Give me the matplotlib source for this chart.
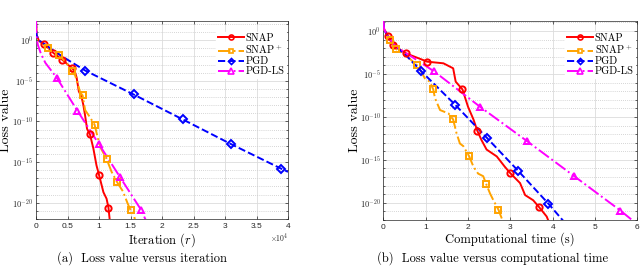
import numpy as np
import matplotlib
matplotlib.use("Agg")
import matplotlib.pyplot as plt
from matplotlib.lines import Line2D
from matplotlib.ticker import FixedLocator, FixedFormatter, NullFormatter

plt.rcParams.update({
    "font.family": "serif",
    "font.serif": ["cmr10"],
    "mathtext.fontset": "cm",
    "axes.unicode_minus": False,
})

# ---- data: log10(loss) ----
# (a) loss vs iteration, x in units of 1e4 iterations
snap_it_x = [0, 0.01, 0.05, 0.13, 0.275, 0.42, 0.57, 0.61, 0.645, 0.68, 0.72, 0.75, 0.78, 0.81,
             0.857, 0.91, 0.96, 1.0, 1.07, 1.12, 1.15, 1.17]
snap_it_y = [2.4, 0.6, -0.1, -0.45, -1.56, -2.42, -3.44, -3.7, -4.6, -6.3, -6.9, -7.9, -9.3, -10.9,
             -11.6, -13.3, -15.4, -16.56, -18.7, -19.5, -20.6, -22.1]
snap_it_mx = [0.13, 0.275, 0.42, 0.57, 0.857, 1.0, 1.15]
snap_it_my = [-0.45, -1.56, -2.42, -3.44, -11.6, -16.56, -20.6]

snapp_it_x = [0, 0.01, 0.05, 0.185, 0.37, 0.5, 0.566, 0.62, 0.66, 0.70, 0.74, 0.78, 0.85, 0.93,
              0.98, 1.03, 1.12, 1.2, 1.29, 1.38, 1.45, 1.5, 1.55, 1.57]
snapp_it_y = [2.4, 0.6, -0.1, -0.94, -1.8, -3.0, -3.85, -4.3, -5.3, -6.4, -6.8, -8.6, -9.4, -10.4,
              -12.0, -13.3, -14.6, -16.2, -17.5, -18.6, -20.0, -20.9, -21.3, -22.1]
snapp_it_mx = [0.185, 0.37, 0.566, 0.74, 0.93, 1.12, 1.29, 1.5]
snapp_it_my = [-0.94, -1.8, -3.85, -6.8, -10.4, -14.6, -17.5, -20.9]

pgd_it_x = [0, 0.01, 0.05, 0.13, 0.3, 0.5, 0.78, 1.55, 2.33, 3.1, 3.89, 4.0]
pgd_it_y = [2.4, 0.6, -0.05, -0.45, -1.4, -2.4, -3.73, -6.68, -9.75, -12.8, -15.8, -16.2]
pgd_it_mx = [0.78, 1.55, 2.33, 3.1, 3.89]
pgd_it_my = [-3.73, -6.68, -9.75, -12.8, -15.8]

pgdls_it_x = [0, 0.005, 0.03, 0.08, 0.15, 0.33, 0.655, 1.0, 1.33, 1.67, 1.74]
pgdls_it_y = [2.4, 0.6, -0.6, -1.7, -2.8, -4.63, -8.65, -12.8, -16.8, -20.9, -22.1]
pgdls_it_mx = [0.33, 0.655, 1.0, 1.33, 1.67]
pgdls_it_my = [-4.63, -8.65, -12.8, -16.8, -20.9]

# (b) loss vs computational time (s)
snap_t_x = [0, 0.02, 0.12, 0.22, 0.535, 1.04, 1.42, 1.65, 1.71, 1.87, 2.0, 2.13, 2.22, 2.32, 2.44,
            2.68, 2.87, 3.0, 3.23, 3.35, 3.54, 3.68, 3.86, 3.9]
snap_t_y = [1.2, 0.2, -0.58, -1.63, -2.6, -3.57, -3.76, -4.34, -5.9, -6.8, -8.8, -10.3, -11.6, -12.7,
            -13.8, -14.6, -15.8, -16.55, -17.7, -19.1, -19.7, -20.5, -21.6, -22.1]
snap_t_mx = [0.12, 0.22, 0.535, 1.04, 1.87, 2.22, 3.0, 3.68]
snap_t_my = [-0.58, -1.63, -2.6, -3.57, -6.8, -11.6, -16.55, -20.5]

snapp_t_x = [0, 0.02, 0.16, 0.3, 0.55, 0.79, 0.87, 0.98, 1.1, 1.18, 1.22, 1.34, 1.54, 1.65, 1.73,
             1.81, 1.89, 2.03, 2.13, 2.24, 2.36, 2.43, 2.52, 2.6, 2.72, 2.82]
snapp_t_y = [1.2, 0.2, -1.05, -2.1, -2.9, -3.95, -4.5, -5.5, -5.9, -6.8, -7.8, -9.2, -9.6, -10.3,
             -11.9, -13.1, -13.4, -14.6, -15.8, -16.6, -16.9, -17.8, -18.9, -19.7, -20.8, -22.1]
snapp_t_mx = [0.16, 0.3, 0.79, 1.18, 1.65, 2.03, 2.43, 2.72]
snapp_t_my = [-1.05, -2.1, -3.95, -6.8, -10.3, -14.6, -17.8, -20.8]

pgd_t_x = [0, 0.02, 0.1, 0.3, 0.55, 0.9, 1.7, 2.44, 3.19, 3.9, 4.25]
pgd_t_y = [1.2, 0.2, -0.6, -1.8, -2.9, -4.7, -8.6, -12.4, -16.3, -20.1, -22.1]
pgd_t_mx = [0.9, 1.7, 2.44, 3.19, 3.9]
pgd_t_my = [-4.7, -8.6, -12.4, -16.3, -20.1]

pgdls_t_x = [0, 0.02, 0.1, 0.3, 0.55, 1.2, 2.28, 3.39, 4.51, 5.6, 5.9]
pgdls_t_y = [1.2, 0.2, -0.6, -1.8, -2.6, -4.7, -8.8, -12.8, -16.9, -20.9, -22.1]
pgdls_t_mx = [1.2, 2.28, 3.39, 4.51, 5.6]
pgdls_t_my = [-4.7, -8.8, -12.8, -16.9, -20.9]

labels = ["SNAP", "SNAP$^+$", "PGD", "PGD-LS"]
ytick_exp = [0, -5, -10, -15, -20]
ytick_labels = [r"$\mathsf{10^{%d}}$" % e for e in ytick_exp]
xticks_it = [0, 0.5, 1, 1.5, 2, 2.5, 3, 3.5, 4]
xticks_t = [0, 1, 2, 3, 4, 5, 6]

styles = [
    dict(color="#ff0000", ls="-", marker="o"),
    dict(color="#ffa300", ls="-.", marker="s"),
    dict(color="#0000ff", ls="--", marker="D"),
    dict(color="#ff00ff", ls="-.", marker="^"),
]
msizes = [4.5, 4.2, 3.8, 4.8]

fig = plt.figure(figsize=(6.4, 2.71), dpi=100)
ax1 = fig.add_axes([0.05625, 0.1919, 0.39375, 0.7317])
ax2 = fig.add_axes([0.5989, 0.1882, 0.3969, 0.7354])

series_it = [(snap_it_x, snap_it_y, snap_it_mx, snap_it_my),
             (snapp_it_x, snapp_it_y, snapp_it_mx, snapp_it_my),
             (pgd_it_x, pgd_it_y, pgd_it_mx, pgd_it_my),
             (pgdls_it_x, pgdls_it_y, pgdls_it_mx, pgdls_it_my)]
series_t = [(snap_t_x, snap_t_y, snap_t_mx, snap_t_my),
            (snapp_t_x, snapp_t_y, snapp_t_mx, snapp_t_my),
            (pgd_t_x, pgd_t_y, pgd_t_mx, pgd_t_my),
            (pgdls_t_x, pgdls_t_y, pgdls_t_mx, pgdls_t_my)]


def draw(ax, series, xlim, ylim_exp, xticks, xlabel, ylabel_x):
    for (x, y, mx, my), st, ms in zip(series, styles, msizes):
        ax.plot(x, 10.0 ** np.array(y), color=st["color"], ls=st["ls"], lw=1.4, zorder=3)
        ax.plot(mx, 10.0 ** np.array(my), ls="none", marker=st["marker"], ms=ms, mew=1.4,
                mfc="none", mec=st["color"], zorder=4)
    ax.set_yscale("log")
    ax.set_xlim(*xlim)
    ax.set_ylim(10.0 ** ylim_exp[0], 10.0 ** ylim_exp[1])
    ax.yaxis.set_major_locator(FixedLocator([10.0 ** e for e in ytick_exp]))
    ax.yaxis.set_major_formatter(FixedFormatter(ytick_labels))
    ax.yaxis.set_minor_locator(FixedLocator([10.0 ** e for e in range(-22, 3)]))
    ax.yaxis.set_minor_formatter(NullFormatter())
    ax.set_xticks(xticks)
    ax.set_xticklabels([("%g" % v) for v in xticks], family="Liberation Sans")
    ax.tick_params(axis="both", which="both", direction="in", labelsize=6, colors="#262626",
                   length=2.5, width=0.5, top=True, right=True)
    ax.tick_params(axis="y", which="minor", length=1.5)
    ax.tick_params(axis="y", pad=2)
    ax.tick_params(axis="x", pad=3)
    ax.grid(True, which="major", color="#dcdcdc", lw=0.6)
    ax.grid(True, which="minor", axis="y", color="#c8c8c8", lw=0.6, ls=(0, (1, 1.5)))
    for sp in ax.spines.values():
        sp.set_color("#262626")
        sp.set_linewidth(0.5)
    ax.set_xlabel(xlabel, fontsize=9, labelpad=1)
    ax.set_ylabel("Loss value", fontsize=10)
    ax.yaxis.set_label_coords(ylabel_x, 0.5)
    handles = [Line2D([], [], color=st["color"], ls=st["ls"], lw=1.4, marker=st["marker"],
                      ms=ms * 0.8, mew=1.2, mfc="none") for st, ms in zip(styles, msizes)]
    leg = ax.legend(handles, labels, loc="upper right", bbox_to_anchor=(1.0, 0.955), fontsize=7.5,
                    frameon=True, fancybox=False, edgecolor="white", framealpha=1,
                    handlelength=2.5, labelspacing=0.05, borderpad=0.15, borderaxespad=0.2,
                    handletextpad=0.15)
    leg.set_zorder(5)


draw(ax1, series_it, (0, 4), (-22, 2.4), xticks_it, "Iteration ($r$)", -0.097)
draw(ax2, series_t, (0, 6), (-22, 1.2), xticks_t, "Computational time (s)", -0.086)

fig.text(0.451, 0.122, r"$\mathsf{\times 10^4}$", fontsize=5.5, ha="right", va="center", color="#262626")
fig.text(0.222, 0.022, "(a)  Loss value versus iteration", fontsize=9, ha="center", va="bottom")
fig.text(0.770, 0.022, "(b)  Loss value versus computational time", fontsize=9, ha="center",
         va="bottom")

fig.savefig("out.png", dpi=100)
